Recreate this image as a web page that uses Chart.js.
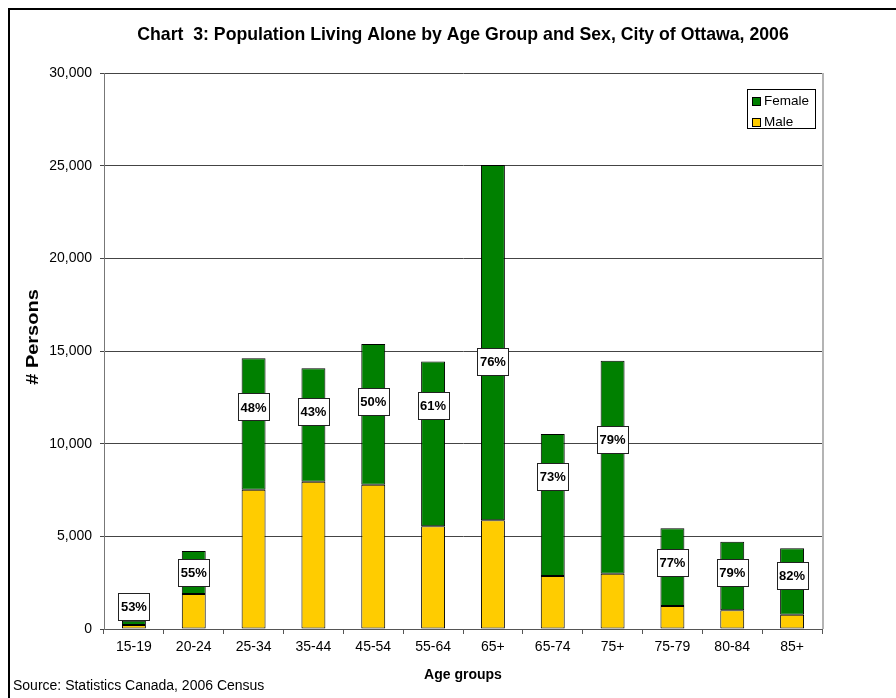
<!DOCTYPE html>
<html>
<head>
<meta charset="utf-8">
<script src="https://cdn.jsdelivr.net/npm/chart.js@4.4.1/dist/chart.umd.min.js"></script>
<style>
  html, body { margin: 0; padding: 0; background: #fff; overflow: hidden; }
  #wrap { width: 896px; height: 698px; }
</style>
</head>
<body>
<div id="wrap"><canvas id="popChart" width="896" height="698"></canvas></div>
<script>
// Data
const ageGroups = ['15-19', '20-24', '25-34', '35-44', '45-54', '55-64', '65+', '65-74', '75+', '75-79', '80-84', '85+'];
const male = [210, 1890, 7520, 7950, 7790, 5540, 5870, 2860, 2980, 1240, 1010, 770];
const female = [240, 2320, 7090, 6120, 7590, 8890, 19170, 7660, 11500, 4190, 3700, 3590];
const femaleShare = ['53%', '55%', '48%', '43%', '50%', '61%', '76%', '73%', '79%', '77%', '79%', '82%'];
// where each % label sits, in persons on the y axis
const shareLabelAt = [1200, 3060, 11980, 11730, 12270, 12050, 14440, 8230, 10240, 3590, 3050, 2880];

const FONT = 'Arial, "Liberation Sans", sans-serif';
const GREEN = '#008000';
const YELLOW = '#FFCC00';

const ctx = document.getElementById('popChart').getContext('2d');

// frame, title, axis title, legend, source note, % labels
const decorations = {
    id: 'decorations',
    beforeDraw(chart) {
        const c = chart.ctx;
        c.save();
        c.fillStyle = '#fff';
        c.fillRect(0, 0, chart.width, chart.height);
        c.strokeStyle = '#000';
        c.lineWidth = 2;
        c.strokeRect(9, 9, chart.width + 20, chart.height + 20);
        c.restore();
    },
    afterDraw(chart) {
        const c = chart.ctx;
        const area = chart.chartArea;
        const yScale = chart.scales.y;
        const xScale = chart.scales.x;
        c.save();

        // right edge of plot area
        c.strokeStyle = '#b4b4b4';
        c.lineWidth = 2;
        c.beginPath();
        c.moveTo(area.right + 1, area.top);
        c.lineTo(area.right + 1, area.bottom);
        c.stroke();

        // title
        c.fillStyle = '#000';
        c.font = 'bold 17.7px ' + FONT;
        c.textAlign = 'center';
        c.textBaseline = 'middle';
        c.fillText('Chart  3: Population Living Alone by Age Group and Sex, City of Ottawa, 2006', (area.left + area.right) / 2, 35);

        // y axis title (stretched along its length like the source)
        c.save();
        c.translate(33, 337);
        c.rotate(-Math.PI / 2);
        c.scale(1.25, 1);
        c.font = 'bold 16px ' + FONT;
        c.textAlign = 'center';
        c.fillText('# Persons', 0, 1);
        c.restore();

        // source
        c.font = '14px ' + FONT;
        c.textAlign = 'left';
        c.fillText('Source: Statistics Canada, 2006 Census', 13, 686);

        // legend
        const lx = 747, ly = 89;
        c.strokeStyle = '#000';
        c.lineWidth = 1;
        c.strokeRect(lx + 0.5, ly + 0.5, 68, 39);
        const items = [['Female', GREEN], ['Male', YELLOW]];
        items.forEach((it, i) => {
            const cy = ly + 12 + i * 21;
            c.fillStyle = it[1];
            c.fillRect(lx + 6, cy - 3, 7, 7);
            c.strokeStyle = '#000';
            c.strokeRect(lx + 5.5, cy - 3.5, 8, 8);
            c.fillStyle = '#000';
            c.font = '13.5px ' + FONT;
            c.textAlign = 'left';
            c.fillText(it[0], lx + 17, cy);
        });

        // % female labels
        c.font = 'bold 13px ' + FONT;
        c.textAlign = 'center';
        femaleShare.forEach((txt, i) => {
            const x = xScale.getPixelForValue(i);
            const y = yScale.getPixelForValue(shareLabelAt[i]);
            const w = 31, h = 27;
            c.fillStyle = '#fff';
            c.fillRect(Math.round(x - w / 2), Math.round(y - h / 2), w, h);
            c.strokeStyle = '#222';
            c.strokeRect(Math.round(x - w / 2) + 0.5, Math.round(y - h / 2) + 0.5, w, h);
            c.fillStyle = '#000';
            c.fillText(txt, x, y + 1);
        });
        c.restore();
    }
};

const chart = new Chart(ctx, {
    type: 'bar',
    data: {
        labels: ageGroups,
        datasets: [
            {
                label: 'Male',
                data: male,
                backgroundColor: YELLOW,
                borderColor: '#000',
                borderWidth: 1,
                borderSkipped: false,
            },
            {
                label: 'Female',
                data: female,
                backgroundColor: GREEN,
                borderColor: '#000',
                borderWidth: 1,
                borderSkipped: false,
            },
        ],
    },
    options: {
        responsive: false,
        animation: false,
        layout: { padding: { top: 73, left: 8, right: 74, bottom: 0 } },
        datasets: { bar: { categoryPercentage: 1, barPercentage: 0.4 } },
        plugins: {
            legend: { display: false },
            title: { display: false },
            tooltip: { enabled: false },
        },
        scales: {
            x: {
                stacked: true,
                afterFit: (scale) => { scale.height = 69; },
                grid: { drawOnChartArea: false, tickLength: 5, color: '#555' },
                border: { color: '#555' },
                ticks: { color: '#000', font: { family: FONT, size: 14 }, padding: 5, maxRotation: 0 },
                title: {
                    display: true,
                    text: 'Age groups',
                    color: '#000',
                    font: { family: FONT, size: 14, weight: 'bold' },
                    padding: { top: 0, bottom: 14 },
                },
            },
            y: {
                stacked: true,
                min: 0,
                max: 30000,
                afterFit: (scale) => { scale.width = 96; },
                grid: { color: '#444', tickLength: 4 },
                border: { color: '#777' },
                ticks: {
                    stepSize: 5000,
                    color: '#000',
                    padding: 8,
                    font: { family: FONT, size: 14 },
                    callback: (v) => v.toLocaleString('en-US'),
                },
                title: { display: false },
            },
        },
    },
    plugins: [decorations],
});
</script>
</body>
</html>
